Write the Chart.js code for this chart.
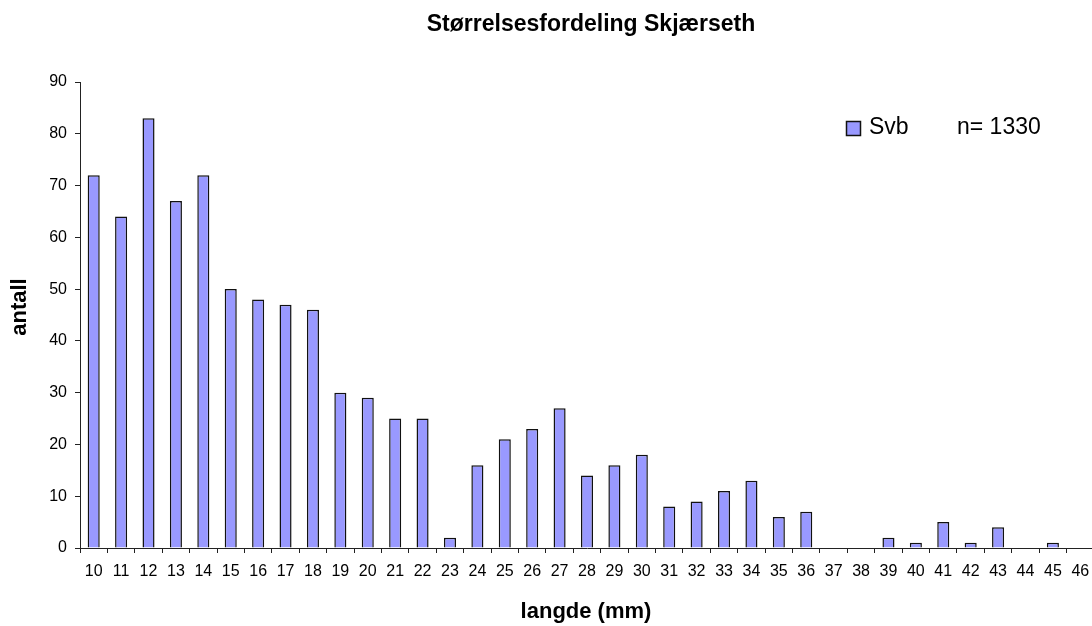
<!DOCTYPE html>
<html>
<head>
<meta charset="utf-8">
<script src="https://cdn.jsdelivr.net/npm/chart.js@4/dist/chart.umd.min.js"></script>
<style>
  html, body { margin: 0; padding: 0; background: #fff; overflow: hidden; }
  #wrap { width: 1100px; height: 626px; }
</style>
</head>
<body>
<div id="wrap"><canvas id="c" width="1100" height="626"></canvas></div>
<script>
// Length classes (mm) and number of fish in each class
const lengths = ['10','11','12','13','14','15','16','17','18','19','20','21','22','23','24','25','26','27','28','29','30','31','32','33','34','35','36','37','38','39','40','41','42','43','44','45','46'];
const counts  = [72, 64, 83, 67, 72, 50, 48, 47, 46, 30, 29, 25, 25, 2, 16, 21, 23, 27, 14, 16, 18, 8, 9, 11, 13, 6, 7, 0, 0, 2, 1, 5, 1, 4, 0, 1, 0];
const yTicks  = [0, 10, 20, 30, 40, 50, 60, 70, 80, 90];

const chartTitle = 'Størrelsesfordeling Skjærseth';
const xTitle = 'langde (mm)';
const yTitle = 'antall';
const seriesName = 'Svb';
const sampleNote = 'n= 1330';

const FONT = '"Liberation Sans", Arial, sans-serif';
const BAR_FILL = '#9999FF';

// Title, axis titles and the legend drawn on top of the chart
const annotations = {
  id: 'annotations',
  afterDraw(chart) {
    const ctx = chart.ctx;
    ctx.save();
    ctx.fillStyle = '#000';
    ctx.textBaseline = 'middle';

    ctx.font = 'bold 23px ' + FONT;
    ctx.textAlign = 'center';
    ctx.fillText(chartTitle, 591, 25);

    ctx.font = 'bold 22px ' + FONT;
    ctx.fillText(xTitle, 586, 612);

    ctx.save();
    ctx.translate(20, 307);
    ctx.rotate(-Math.PI / 2);
    ctx.fillText(yTitle, 0, 0);
    ctx.restore();

    // legend
    ctx.fillStyle = BAR_FILL;
    ctx.fillRect(846.5, 121.5, 14, 14);
    ctx.strokeStyle = '#111';
    ctx.lineWidth = 1.5;
    ctx.strokeRect(846.5, 121.5, 14, 14);
    ctx.fillStyle = '#000';
    ctx.font = '23px ' + FONT;
    ctx.textAlign = 'left';
    ctx.fillText(seriesName, 869, 128);
    ctx.fillText(sampleNote, 957, 128);
    ctx.restore();
  }
};

new Chart(document.getElementById('c'), {
  type: 'bar',
  data: {
    labels: lengths,
    datasets: [{
      label: seriesName,
      data: counts,
      backgroundColor: BAR_FILL,
      borderColor: '#111',
      borderWidth: 1.5,
      borderSkipped: 'bottom',
      barPercentage: 0.44,
      categoryPercentage: 1.0
    }]
  },
  options: {
    responsive: false,
    animation: false,
    devicePixelRatio: 1,
    layout: { padding: { left: 0, top: 82, right: 6, bottom: 0 } },
    plugins: {
      legend: { display: false },
      title: { display: false },
      tooltip: { enabled: false }
    },
    scales: {
      x: {
        offset: true,
        grid: {
          display: true,
          offset: true,
          drawOnChartArea: false,
          drawTicks: true,
          tickLength: 5,
          color: '#222'
        },
        border: { display: true, color: '#222', width: 1 },
        ticks: {
          color: '#000',
          font: { family: FONT, size: 16 },
          padding: 9,
          maxRotation: 0,
          autoSkip: false
        },
        afterFit(scale) { scale.height = 78; }
      },
      y: {
        min: 0,
        max: 90,
        afterBuildTicks(scale) { scale.ticks = yTicks.map(v => ({ value: v })); },
        grid: {
          display: true,
          drawOnChartArea: false,
          drawTicks: true,
          tickLength: 5,
          color: '#222'
        },
        border: { display: true, color: '#222', width: 1 },
        ticks: {
          color: '#000',
          font: { family: FONT, size: 16 },
          padding: 8
        },
        afterFit(scale) { scale.width = 80; }
      }
    }
  },
  plugins: [annotations]
});
</script>
</body>
</html>
